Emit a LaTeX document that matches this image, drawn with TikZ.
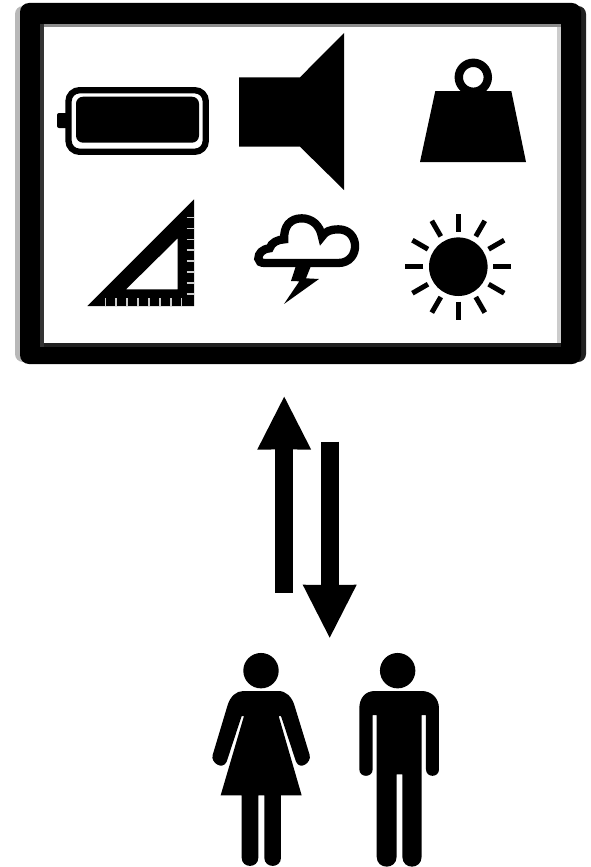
\documentclass[tikz,border=0pt]{standalone}
\usetikzlibrary{arrows.meta}

\definecolor{edgelight}{gray}{0.72}
\definecolor{edgedark}{gray}{0.13}

\begin{document}
\begin{tikzpicture}[x=1pt, y=-1pt, line join=miter,
    bigarrow/.style={line width=18pt, -{Stealth[length=53pt, width=54pt, inset=0.4pt, line width=0pt]}},
    ray/.style={line width=5pt},
    tick/.style={black!20, line width=1.2pt}]
  \useasboundingbox (0,0) rectangle (590,867);
  % frame
  \fill[edgelight, rounded corners=8pt] (15,6) rectangle (40,362);
  \fill[edgedark, rounded corners=8pt] (560,6) rectangle (586,362);
  \fill[black, rounded corners=9pt] (20,3) rectangle (581,364);
  \fill[white] (40,24) rectangle (561,347);
  \fill[black!80] (40,24) rectangle (44,347);
  \fill[black!20] (557,24) rectangle (561,347);
  \fill[edgedark] (44,343) rectangle (561,347);
  \fill[black!45] (44,24) rectangle (561,27.5);
  % battery
  \fill[rounded corners=2pt] (57,113) rectangle (68,128);
  \draw[line width=6.3pt, rounded corners=11pt] (68.5,90.2) rectangle (205.8,151.8);
  \fill[rounded corners=7pt] (76,96.7) rectangle (199,142.7);
  % speaker
  \fill (239,77.3) -- (300,77.3) -- (344,33) -- (344,190) -- (300,146.7) -- (239,146.7) -- cycle;
  % weight
  \draw[line width=8.4pt] (473.3,77.3) circle (14.5pt);
  \fill (435.3,91) -- (511.3,91) -- (526,162) -- (420,162) -- cycle;
  % set square
  \fill[even odd rule] (194,199.3) -- (194,306) -- (87.3,306) -- cycle
    (177.7,238.3) -- (177.7,289.3) -- (126,289.3) -- cycle;
  \foreach \y in {82,115,148,180,213,246,279,312}
    \draw[tick] (186.7,190+\y/3) -- (194,190+\y/3);
  \foreach \x in {316,348,381,414,447,480,513,545}
    \draw[tick] (\x/3,298.3) -- (\x/3,306);
  % cloud
  \begin{scope}[shift={(245,210)}, x=0.3333pt, y=-0.3333pt]
    \draw[line width=8.3pt] (60,159) -- (280,159)
      .. controls (347,159) and (347,58) .. (280,58)
      .. controls (258,58) and (240,64) .. (231,80)
      .. controls (225,45) and (200,25) .. (170,25)
      .. controls (135,25) and (115,50) .. (118,88)
      .. controls (100,88) and (78,98) .. (74,115)
      .. controls (52,117) and (40,130) .. (40,146)
      .. controls (40,155) and (48,159) .. (60,159) -- cycle;
    \fill (152,170) -- (138,213) -- (163,214) -- (117,282) -- (222,207) -- (183,205) -- (197,170) -- cycle;
  \end{scope}
  % sun
  \coordinate (sun) at (458.3,266.7);
  \fill (sun) circle (29.3pt);
  \foreach \a in {0,30,...,330}
    \draw[ray] ([shift={(\a:35pt)}]sun) -- ([shift={(\a:53pt)}]sun);
  % arrows
  \coordinate (upfoot) at (284.2,592.7);
  \coordinate (uptip) at (284.2,396.7);
  \coordinate (downfoot) at (329.7,441.7);
  \coordinate (downtip) at (329.7,637.7);
  \draw[bigarrow] (upfoot) -- (uptip);
  \draw[bigarrow] (downfoot) -- (downtip);
  % woman
  \begin{scope}[shift={(200,640)}, x=0.3333pt, y=-0.3333pt]
    \fill (183,92) circle (17.7pt);
    \fill (130,153) -- (235,153) .. controls (258,153) and (275,170) .. (283,195)
      -- (329,345) .. controls (335,368) and (300,392) .. (288,365)
      -- (243,228) -- (236,228) -- (305,466) -- (243,466) -- (243,653)
      .. controls (243,686) and (193,686) .. (193,653) -- (193,466) -- (175,466) -- (175,653)
      .. controls (175,686) and (125,686) .. (125,653) -- (125,466) -- (62,466)
      -- (132,228) -- (125,228) -- (80,365)
      .. controls (68,392) and (31,368) .. (38,345) -- (83,195)
      .. controls (91,170) and (108,153) .. (130,153) -- cycle;
  \end{scope}
  % man
  \begin{scope}[shift={(200,640)}, x=0.3333pt, y=-0.3333pt]
    \fill (593,92) circle (17.7pt);
    \fill (525,153) -- (665,153) .. controls (695,153) and (717,175) .. (717,205)
      -- (717,388) .. controls (717,414) and (678,414) .. (678,388) -- (678,225) -- (665,225)
      -- (665,650) .. controls (665,690) and (607,690) .. (607,650) -- (607,403) -- (590,403)
      -- (590,650) .. controls (590,690) and (530,690) .. (530,650) -- (530,225) -- (518,225)
      -- (518,388) .. controls (518,414) and (478,414) .. (478,388) -- (478,205)
      .. controls (478,175) and (495,153) .. (525,153) -- cycle;
  \end{scope}
\end{tikzpicture}
\end{document}
